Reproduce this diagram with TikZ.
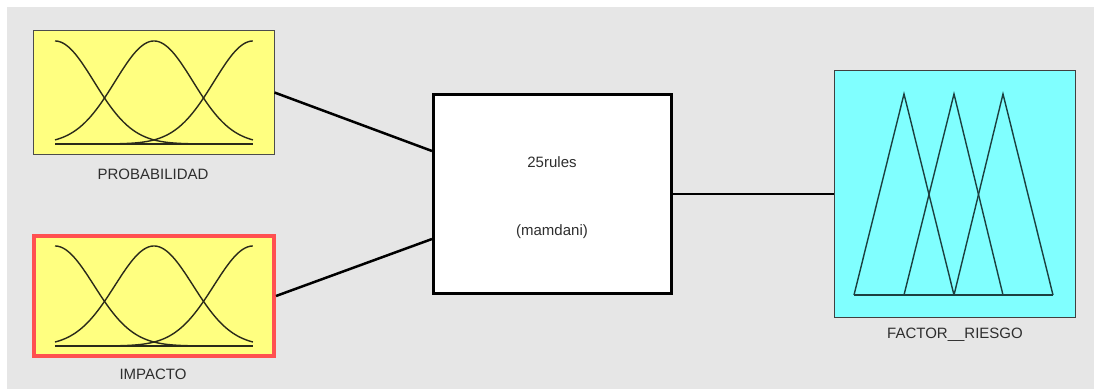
\documentclass[tikz,border=0pt]{standalone}
\usepackage{fontspec}
\setmainfont{Liberation Sans}
\usetikzlibrary{calc}
\definecolor{panelgray}{HTML}{E6E6E6}
\definecolor{inyellow}{HTML}{FFFF80}
\definecolor{outcyan}{HTML}{80FFFF}
\definecolor{selred}{HTML}{FF5050}
\definecolor{labelgray}{HTML}{2E2E2E}
\definecolor{mfdark}{HTML}{2A2A1A}
\definecolor{mfteal}{HTML}{1C4040}
\tikzset{
  inbox/.style={draw=black!70, line width=1pt, fill=inyellow, minimum width=241pt, minimum height=123pt, inner sep=0pt},
  selbox/.style={draw=selred, line width=4pt, fill=inyellow, minimum width=240pt, minimum height=120pt, inner sep=0pt},
  rulebox/.style={draw=black, line width=3pt, fill=white, minimum width=238pt, minimum height=199pt, inner sep=0pt},
  outbox/.style={draw=black!75, line width=1pt, fill=outcyan, minimum width=241pt, minimum height=247pt, inner sep=0pt},
  lbl/.style={text=labelgray, font=\fontsize{15pt}{17pt}\selectfont, inner sep=0pt},
  wire/.style={draw=black, line width=2.5pt},
  bell/.style={draw=mfdark, line width=1.4pt},
  tri/.style={draw=mfteal, line width=1.4pt, line join=miter},
}
% three Gaussian membership functions over [x0, x0+198], base at y0, peak height h
\newcommand{\bellgroup}[3]{%
  \begin{scope}[shift={(#1,#2)}]
    \draw[bell] (0,0) -- (198,0);
    \draw[bell] plot[domain=0:2, samples=120, smooth] ({99*\x}, {#3*exp(-(\x)^2/0.31)});
    \draw[bell] plot[domain=0:2, samples=120, smooth] ({99*\x}, {#3*exp(-(\x-1)^2/0.31)});
    \draw[bell] plot[domain=0:2, samples=120, smooth] ({99*\x}, {#3*exp(-(\x-2)^2/0.31)});
  \end{scope}}
\begin{document}
\begin{tikzpicture}[x=1pt, y=1pt]
  \useasboundingbox (0,0) rectangle (1094,389);
  \fill[panelgray] (7,0) rectangle (1094,382);

  % input variables
  \node[inbox] (prob) at (153.5,296.5) {};
  \bellgroup{55}{245}{103}
  \node[lbl] (probl) at (153,215) {PROBABILIDAD};

  \node[selbox] (imp) at (154,93) {};
  \bellgroup{55}{43}{100}
  \node[lbl] (impl) at (153,15) {IMPACTO};

  % rule block
  \node[rulebox] (mid) at (552.5,195) {};
  \node[lbl] (rules) at (552,227) {25rules};
  \node[lbl] (kind) at (552,157) {(mamdani)};

  % output variable
  \node[outbox] (out) at (954.5,195) {};
  \draw[tri] (854,94) -- (904,295) -- (954,94);
  \draw[tri] (904,94) -- (954,295) -- (1003,94);
  \draw[tri] (954,94) -- (1003,295) -- (1053,94);
  \draw[tri] (854,94) -- (1053,94);
  \node[lbl] (outl) at (955,54) {FACTOR\_\_RIESGO};

  % connections
  \draw[wire] (prob.east) -- ($(mid.west)+(0,43)$);
  \draw[wire] (imp.east) -- ($(mid.west)+(0,-45)$);
  \draw[wire] (mid.east) -- (out.west);
\end{tikzpicture}
\end{document}
